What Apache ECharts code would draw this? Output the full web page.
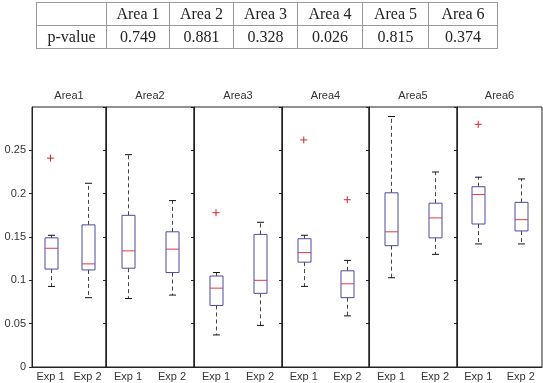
<!DOCTYPE html>
<html>
<head>
<meta charset="utf-8">
<script src="https://cdn.jsdelivr.net/npm/echarts@6/dist/echarts.min.js"></script>
<style>
  body { margin: 0; background: #fff; }
  #chart { position: absolute; left: 0; top: 0; width: 543px; height: 383px; }
  #pTable {
    position: absolute; left: 36px; top: 2px; width: 461px;
    border-collapse: collapse; table-layout: fixed;
    font-family: "Liberation Serif", serif; font-size: 16px; color: #222;
  }
  #pTable td { border: 1px solid #999; height: 22px; padding: 0; text-align: center; }
</style>
</head>
<body>
<div id="chart"></div>
<table id="pTable"></table>
<script>
  // values
  let areaNames = ['Area1', 'Area2', 'Area3', 'Area4', 'Area5', 'Area6']
  let tableHeads = ['Area 1', 'Area 2', 'Area 3', 'Area 4', 'Area 5', 'Area 6']
  let pValues = ['0.749', '0.881', '0.328', '0.026', '0.815', '0.374']
  let expNames = ['Exp 1', 'Exp 2']
  // [lower whisker, q1, median, q3, upper whisker]
  let exp1Stats = [
    [0.093, 0.113, 0.137, 0.149, 0.152],
    [0.079, 0.114, 0.134, 0.175, 0.245],
    [0.037, 0.071, 0.091, 0.105, 0.109],
    [0.093, 0.121, 0.132, 0.148, 0.152],
    [0.103, 0.140, 0.156, 0.201, 0.289],
    [0.142, 0.165, 0.199, 0.208, 0.219]
  ]
  let exp2Stats = [
    [0.080, 0.112, 0.119, 0.164, 0.212],
    [0.083, 0.109, 0.136, 0.156, 0.192],
    [0.048, 0.085, 0.100, 0.153, 0.167],
    [0.059, 0.080, 0.096, 0.111, 0.123],
    [0.130, 0.149, 0.172, 0.189, 0.225],
    [0.142, 0.157, 0.170, 0.190, 0.217]
  ]
  let exp1Outliers = [0.241, null, 0.178, 0.262, null, 0.280]
  let exp2Outliers = [null, null, null, 0.193, null, null]

  // table
  let tbl = document.getElementById('pTable')
  let colW = [70, 63, 64, 64, 65, 66, 69]
  let cols = '<colgroup>' + colW.map((w) => '<col style="width:' + w + 'px">').join('') + '</colgroup>'
  let r1 = '<tr><td></td>' + tableHeads.map((h) => '<td>' + h + '</td>').join('') + '</tr>'
  let r2 = '<tr><td>p-value</td>' + pValues.map((v) => '<td>' + v + '</td>').join('') + '</tr>'
  tbl.innerHTML = cols + r1 + r2

  let panelLeft = [32, 106, 194, 282, 369, 457]
  let panelWidth = [74, 88, 88, 87, 88, 85]
  let labelFont = { fontFamily: 'Liberation Sans', fontSize: 11, color: '#333' }

  function renderBox (params, api) {
    let x = api.value(0)
    let lo = api.coord([x, api.value(1)])
    let q1 = api.coord([x, api.value(2)])
    let med = api.coord([x, api.value(3)])
    let q3 = api.coord([x, api.value(4)])
    let hi = api.coord([x, api.value(5)])
    let cx = Math.round(lo[0]) + 0.5
    let hw = 6.5
    let cw = 3.5
    let dash = { stroke: '#444', lineWidth: 1, lineDash: [4, 3] }
    let solid = { stroke: '#111', lineWidth: 1 }
    return {
      type: 'group',
      children: [
        { type: 'line', shape: { x1: cx, y1: q3[1], x2: cx, y2: hi[1] }, style: dash },
        { type: 'line', shape: { x1: cx, y1: q1[1], x2: cx, y2: lo[1] }, style: dash },
        { type: 'line', shape: { x1: cx - cw, y1: hi[1], x2: cx + cw, y2: hi[1] }, style: solid },
        { type: 'line', shape: { x1: cx - cw, y1: lo[1], x2: cx + cw, y2: lo[1] }, style: solid },
        { type: 'rect', shape: { x: cx - hw, y: q3[1], width: hw * 2, height: q1[1] - q3[1] }, style: { fill: '#fff', stroke: '#4a4aa0', lineWidth: 1 } },
        { type: 'line', shape: { x1: cx - hw, y1: med[1], x2: cx + hw, y2: med[1] }, style: { stroke: '#e03c3c', lineWidth: 1 } }
      ]
    }
  }

  function renderPlus (params, api) {
    let p = api.coord([api.value(0), api.value(1)])
    let s = 3.5
    let st = { stroke: '#d02828', lineWidth: 1 }
    return {
      type: 'group',
      children: [
        { type: 'line', shape: { x1: p[0] - s, y1: p[1], x2: p[0] + s, y2: p[1] }, style: st },
        { type: 'line', shape: { x1: p[0], y1: p[1] - s, x2: p[0], y2: p[1] + s }, style: st }
      ]
    }
  }

  let grids = []
  let xAxes = []
  let yAxes = []
  let series = []
  areaNames.forEach((name, i) => {
    grids.push({ left: panelLeft[i], width: panelWidth[i], top: 107, bottom: 16, show: true, borderColor: '#222', borderWidth: 1 })
    xAxes.push({
      type: 'category', gridIndex: i, data: expNames,
      axisLine: { lineStyle: { color: '#222' } },
      axisTick: { show: false },
      axisLabel: Object.assign({ margin: 4, interval: 0 }, labelFont)
    })
    xAxes.push({
      type: 'category', gridIndex: i, data: expNames, position: 'top',
      name: name, nameLocation: 'middle', nameGap: 6,
      nameTextStyle: Object.assign({ verticalAlign: 'bottom' }, labelFont),
      axisLine: { show: false }, axisTick: { show: false }, axisLabel: { show: false }
    })
    yAxes.push({
      type: 'value', gridIndex: i, min: 0, max: 0.3, interval: 0.05,
      splitLine: { show: false },
      axisLine: { show: true, lineStyle: { color: '#222' } },
      axisTick: { show: true, length: 3, lineStyle: { color: '#222' } },
      axisLabel: Object.assign({ show: i === 0, showMaxLabel: false, margin: 6 }, labelFont)
    })
    series.push({
      type: 'custom', xAxisIndex: i * 2, yAxisIndex: i,
      renderItem: renderBox,
      data: [[0].concat(exp1Stats[i]), [1].concat(exp2Stats[i])]
    })
    let outs = []
    if (exp1Outliers[i] !== null) outs.push([0, exp1Outliers[i]])
    if (exp2Outliers[i] !== null) outs.push([1, exp2Outliers[i]])
    series.push({
      type: 'custom', xAxisIndex: i * 2, yAxisIndex: i,
      renderItem: renderPlus,
      data: outs
    })
  })

  let chart = echarts.init(document.getElementById('chart'))
  chart.setOption({
    animation: false,
    grid: grids,
    xAxis: xAxes,
    yAxis: yAxes,
    series: series
  })
</script>
</body>
</html>
